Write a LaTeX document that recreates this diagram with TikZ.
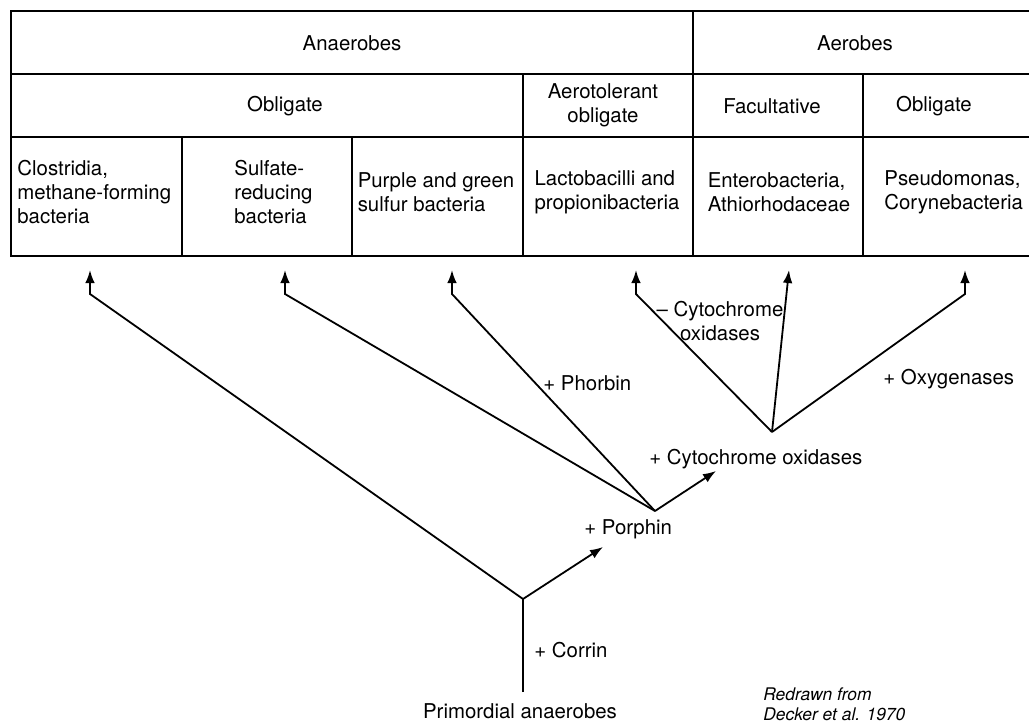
\documentclass[tikz,border=0pt]{standalone}
\usepackage{fontspec}
\setmainfont{TeX Gyre Heros}
\usetikzlibrary{arrows.meta}

\begin{document}
\begin{tikzpicture}[x=0.5pt, y=-0.5pt,
    grid/.style={draw=black, line width=1.1pt},
    branch/.style={draw=black, line width=0.9pt, line join=miter},
    tip/.style={-{Latex[length=6.5pt,width=4.8pt]}},
    cell/.style={font=\fontsize{10.2}{11.9}\selectfont, align=left, inner sep=0pt},
    lab/.style={font=\fontsize{10.2}{11.6}\selectfont, inner sep=0pt},
    note/.style={font=\fontsize{8.7}{10}\selectfont\itshape, align=left, inner sep=0pt}]
    \useasboundingbox (0,0) rectangle (1029,724);
    % table
    \draw[grid] (1029,11) -- (11,11) -- (11,256) -- (1029,256);
    \draw[grid] (11,74) -- (1029,74);
    \draw[grid] (11,137) -- (1029,137);
    \draw[grid] (693,11) -- (693,256);
    \draw[grid] (523,74) -- (523,256);
    \draw[grid] (863,74) -- (863,256);
    \draw[grid] (182,137) -- (182,256);
    \draw[grid] (352,137) -- (352,256);
    \node[cell] (anaer) at (352,43) {Anaerobes};
    \node[cell] (aer) at (855,43) {Aerobes};
    \node[cell] (obligA) at (285,106) {Obligate};
    \node[cell, align=center] (aerotol) at (603,105) {Aerotolerant\\obligate};
    \node[cell] (facult) at (772,106) {Facultative};
    \node[cell] (obligB) at (934,106) {Obligate};
    \node[cell, anchor=west] (clostr) at (17,192) {Clostridia,\\methane-forming\\bacteria};
    \node[cell, anchor=west] (sulfate) at (234,192) {Sulfate-\\reducing\\bacteria};
    \node[cell] (purple) at (436,192) {Purple and green\\sulfur bacteria};
    \node[cell] (lacto) at (607,192) {Lactobacilli and\\propionibacteria};
    \node[cell] (entero) at (779,192) {Enterobacteria,\\Athiorhodaceae};
    \node[cell, anchor=west] (pseudo) at (884,192) {Pseudomonas,\\Corynebacteria};
    % tree
    \coordinate (root) at (523,692);
    \coordinate (forkA) at (523,599);
    \coordinate (forkB) at (655,511);
    \coordinate (forkC) at (772,432);
    \coordinate (porphEnd) at (603,547);
    \coordinate (cytoEnd) at (716,471);
    \coordinate (toClostr) at (90,270);
    \coordinate (toSulfate) at (285,270);
    \coordinate (toPurple) at (452,270);
    \coordinate (toLacto) at (636,270);
    \coordinate (toEntero) at (789,270);
    \coordinate (toPseudo) at (965,270);
    \draw[branch] (root) -- (forkA);
    \draw[branch, tip] (forkA) -- ([yshift=-12pt]toClostr) -- (toClostr);
    \draw[branch, tip] (forkA) -- (porphEnd);
    \draw[branch, tip] (forkB) -- ([yshift=-12pt]toSulfate) -- (toSulfate);
    \draw[branch, tip] (forkB) -- ([yshift=-12pt]toPurple) -- (toPurple);
    \draw[branch, tip] (forkB) -- (cytoEnd);
    \draw[branch, tip] (forkC) -- ([yshift=-12pt]toLacto) -- (toLacto);
    \draw[branch, tip] (forkC) -- (toEntero);
    \draw[branch, tip] (forkC) -- ([yshift=-12pt]toPseudo) -- (toPseudo);
    \node[lab, anchor=west] (phorbin) at (543,383) {+ Phorbin};
    \node[lab, anchor=west] (porphin) at (584,529) {+ Porphin};
    \node[lab, anchor=west] (cytoplus) at (649,459) {+ Cytochrome oxidases};
    \node[lab, align=center] (cytominus) at (720,321) {-- Cytochrome\\oxidases};
    \node[lab, anchor=west] (oxygen) at (883,379) {+ Oxygenases};
    \node[lab, anchor=west] (corrin) at (534,650) {+ Corrin};
    \node[lab] (primord) at (520,711) {Primordial anaerobes};
    \node[note, anchor=west] (source) at (763,704) {Redrawn from\\Decker et al. 1970};
\end{tikzpicture}
\end{document}
